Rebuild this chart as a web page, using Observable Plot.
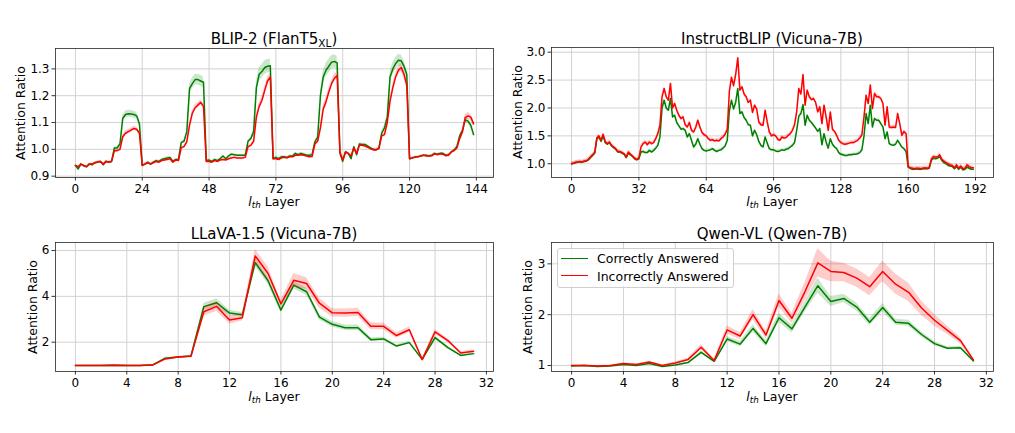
<!DOCTYPE html>
<html><head><meta charset="utf-8">
<script src="https://cdn.jsdelivr.net/npm/d3@7"></script>
<script src="https://cdn.jsdelivr.net/npm/@observablehq/plot@0.6"></script>
<style>
html,body{margin:0;padding:0;background:#fff;}
#root{position:relative;width:1015px;height:433px;overflow:hidden;font-family:"DejaVu Sans",sans-serif;color:#000;}
.abs{position:absolute;white-space:nowrap;}
.title{font-size:15px;transform:translate(-50%,-50%);}
.xlab{font-size:12.5px;transform:translate(-50%,-50%);}
.ylab{font-size:12.5px;transform:translate(-50%,-50%) rotate(-90deg);}
sub{font-size:0.7em;vertical-align:-0.3em;line-height:0;}
.panel svg{display:block;}
</style>
</head><body><div id="root"></div>
<script>
// ---------- Panel 1: BLIP-2 (FlanT5XL), layers 0..143 ----------
const blipXTicks = [0, 24, 48, 72, 96, 120, 144];
const blipYTicks = [0.9, 1.0, 1.1, 1.2, 1.3];
const blipCorrect = [
  0.940,0.927,0.945,0.938,0.935,0.945,0.942,0.950,0.952,0.955,0.942,0.955,0.952,0.955,1.005,1.005,1.020,1.115,1.130,1.133,1.132,1.130,1.125,1.095,
  0.940,0.945,0.952,0.945,0.952,0.958,0.955,0.962,0.965,0.968,0.970,0.955,0.962,0.962,1.025,1.030,1.065,1.227,1.245,1.260,1.260,1.255,1.250,0.958,
  0.960,0.955,0.962,0.958,0.965,0.975,0.965,0.975,0.982,0.980,0.978,0.978,0.978,0.978,1.030,1.040,1.065,1.230,1.280,1.290,1.305,1.310,1.312,0.965,
  0.970,0.965,0.972,0.972,0.970,0.975,0.975,0.985,0.980,0.985,0.982,0.978,0.978,0.980,1.028,1.045,1.200,1.270,1.295,1.310,1.325,1.328,1.322,0.985,
  0.955,0.990,0.985,0.965,1.010,0.980,1.020,1.018,1.018,1.012,1.005,1.000,0.998,1.005,1.060,1.080,1.120,1.270,1.300,1.320,1.332,1.330,1.310,1.280,
  0.965,0.968,0.972,0.972,0.975,0.978,0.978,0.975,0.978,0.985,0.982,0.985,0.985,0.978,0.980,0.990,0.998,1.010,1.050,1.070,1.110,1.105,1.090,1.055
];
const blipIncorrect = [
  0.940,0.935,0.945,0.940,0.935,0.945,0.945,0.950,0.953,0.955,0.945,0.955,0.953,0.955,0.995,0.995,1.000,1.047,1.060,1.066,1.072,1.078,1.075,1.060,
  0.940,0.945,0.950,0.945,0.950,0.955,0.952,0.958,0.960,0.962,0.965,0.952,0.960,0.958,1.006,1.010,1.028,1.090,1.135,1.155,1.165,1.175,1.160,0.955,
  0.955,0.952,0.958,0.955,0.960,0.962,0.960,0.965,0.968,0.970,0.968,0.968,0.968,0.970,1.010,1.015,1.030,1.120,1.160,1.183,1.220,1.255,1.270,0.965,
  0.965,0.962,0.968,0.970,0.968,0.972,0.972,0.978,0.978,0.980,0.978,0.975,0.972,0.973,1.020,1.030,1.080,1.150,1.177,1.214,1.245,1.265,1.275,0.990,
  0.960,0.990,0.985,0.975,1.005,0.985,1.015,1.015,1.012,1.008,1.002,0.998,0.998,1.003,1.050,1.055,1.100,1.180,1.230,1.270,1.295,1.305,1.280,1.240,
  0.965,0.968,0.970,0.972,0.975,0.978,0.975,0.975,0.976,0.983,0.980,0.983,0.982,0.976,0.978,0.990,0.995,1.005,1.040,1.065,1.118,1.125,1.120,1.095
];
const blipCorrectErr = [
  0.004,0.004,0.004,0.004,0.004,0.004,0.004,0.004,0.004,0.004,0.004,0.004,0.004,0.004,0.005,0.005,0.006,0.012,0.013,0.013,0.013,0.013,0.012,0.010,
  0.004,0.004,0.004,0.004,0.004,0.004,0.004,0.004,0.004,0.004,0.004,0.004,0.004,0.004,0.006,0.006,0.008,0.018,0.020,0.020,0.020,0.020,0.020,0.005,
  0.004,0.004,0.004,0.004,0.004,0.004,0.004,0.004,0.004,0.004,0.004,0.004,0.004,0.004,0.006,0.006,0.008,0.022,0.025,0.025,0.025,0.025,0.025,0.005,
  0.004,0.004,0.004,0.004,0.004,0.004,0.004,0.004,0.004,0.004,0.004,0.004,0.004,0.004,0.006,0.006,0.015,0.022,0.025,0.025,0.025,0.025,0.025,0.005,
  0.005,0.005,0.005,0.005,0.005,0.005,0.005,0.005,0.005,0.005,0.005,0.005,0.005,0.005,0.008,0.010,0.012,0.020,0.022,0.022,0.022,0.022,0.020,0.020,
  0.003,0.003,0.003,0.003,0.003,0.003,0.003,0.003,0.003,0.003,0.003,0.003,0.003,0.003,0.003,0.003,0.003,0.003,0.006,0.008,0.010,0.010,0.010,0.010
];
const blipIncorrectErr = [
  0.003,0.003,0.003,0.003,0.003,0.003,0.003,0.003,0.003,0.003,0.003,0.003,0.003,0.003,0.004,0.004,0.005,0.008,0.008,0.008,0.008,0.008,0.008,0.008,
  0.003,0.003,0.003,0.003,0.003,0.003,0.003,0.003,0.003,0.003,0.003,0.003,0.003,0.003,0.004,0.005,0.006,0.010,0.010,0.010,0.010,0.010,0.010,0.004,
  0.003,0.003,0.003,0.003,0.003,0.003,0.003,0.003,0.003,0.003,0.003,0.003,0.003,0.003,0.004,0.005,0.006,0.012,0.014,0.014,0.014,0.014,0.014,0.004,
  0.003,0.003,0.003,0.003,0.003,0.003,0.003,0.003,0.003,0.003,0.003,0.003,0.003,0.003,0.004,0.005,0.010,0.014,0.014,0.014,0.014,0.014,0.014,0.004,
  0.004,0.004,0.004,0.004,0.004,0.004,0.004,0.004,0.004,0.004,0.004,0.004,0.004,0.004,0.006,0.008,0.010,0.014,0.014,0.014,0.014,0.014,0.014,0.014,
  0.003,0.003,0.003,0.003,0.003,0.003,0.003,0.003,0.003,0.003,0.003,0.003,0.003,0.003,0.003,0.003,0.003,0.003,0.006,0.008,0.012,0.012,0.012,0.012
];

// ---------- Panel 2: InstructBLIP (Vicuna-7B), layers 0..191 ----------
const instXTicks = [0, 32, 64, 96, 128, 160, 192];
const instYTicks = [1.0, 1.5, 2.0, 2.5, 3.0];
const instCorrect = [
  1.00,1.01,1.02,1.03,1.03,1.03,1.04,1.05,1.07,1.11,1.15,1.19,1.44,1.48,1.40,1.50,1.38,1.35,1.38,1.32,1.29,1.26,1.21,1.21,1.19,1.17,1.11,1.19,1.16,1.13,1.09,1.07,
  1.09,1.21,1.22,1.20,1.20,1.24,1.21,1.24,1.28,1.33,1.48,2.00,2.14,2.00,1.96,2.17,1.84,1.87,1.74,1.68,1.62,1.63,1.60,1.48,1.54,1.42,1.30,1.35,1.45,1.35,1.27,1.24,
  1.23,1.24,1.25,1.27,1.24,1.22,1.24,1.25,1.28,1.32,1.42,1.95,2.14,1.98,2.10,2.35,1.90,1.93,1.83,1.78,1.70,1.69,1.50,1.60,1.52,1.40,1.33,1.30,1.48,1.37,1.27,1.25,
  1.25,1.23,1.22,1.23,1.25,1.24,1.26,1.27,1.30,1.33,1.38,1.60,1.85,1.90,2.06,1.69,1.87,1.78,1.74,1.69,1.64,1.58,1.63,1.34,1.54,1.39,1.28,1.45,1.35,1.30,1.27,1.20,
  1.17,1.16,1.15,1.15,1.16,1.16,1.17,1.17,1.18,1.20,1.25,1.50,1.90,1.72,2.05,1.66,1.81,1.78,1.78,1.72,1.66,1.45,1.57,1.36,1.34,1.33,1.35,1.42,1.36,1.30,1.27,1.22,
  0.94,0.92,0.90,0.90,0.91,0.90,0.90,0.91,0.91,0.91,0.92,1.06,1.10,1.09,1.10,1.13,1.06,1.02,1.00,0.97,0.96,0.95,0.91,0.95,0.90,0.94,0.89,0.90,0.94,0.92,0.90,0.90
];
const instIncorrect = [
  1.00,1.01,1.03,1.03,1.04,1.03,1.05,1.05,1.08,1.12,1.16,1.20,1.46,1.50,1.42,1.53,1.40,1.36,1.39,1.33,1.30,1.27,1.22,1.22,1.20,1.18,1.12,1.21,1.17,1.14,1.10,1.08,
  1.10,1.30,1.36,1.39,1.34,1.39,1.36,1.38,1.45,1.54,1.69,2.20,2.35,2.20,2.14,2.44,2.00,2.08,1.96,1.87,1.81,1.84,1.70,1.66,1.74,1.60,1.57,1.65,1.78,1.66,1.56,1.52,
  1.50,1.45,1.42,1.43,1.41,1.42,1.41,1.45,1.48,1.53,1.62,2.30,2.55,2.40,2.60,2.90,2.32,2.38,2.25,2.20,2.10,2.14,1.92,2.05,1.98,1.75,1.70,1.69,1.96,1.75,1.57,1.50,
  1.52,1.50,1.44,1.42,1.48,1.46,1.47,1.51,1.54,1.60,1.70,1.93,2.35,2.25,2.60,2.05,2.32,2.20,2.15,2.17,2.10,1.93,2.02,1.72,2.05,1.84,1.60,1.93,1.62,1.58,1.51,1.42,
  1.38,1.36,1.35,1.36,1.37,1.38,1.38,1.40,1.42,1.46,1.52,1.84,2.23,2.08,2.41,1.99,2.26,2.20,2.20,2.17,2.08,1.69,2.02,1.66,1.65,1.66,1.65,1.90,1.72,1.51,1.58,1.54,
  0.95,0.93,0.92,0.91,0.92,0.92,0.91,0.92,0.93,0.92,0.93,1.08,1.13,1.12,1.12,1.16,1.08,1.05,1.02,1.00,0.98,0.97,0.93,0.98,0.92,0.96,0.91,0.92,0.98,0.95,0.93,0.93
];
const instCorrectErr = 0.025;
const instIncorrectErr = 0.035;

// ---------- Panel 3: LLaVA-1.5 (Vicuna-7B), layers 0..31 ----------
const llavaXTicks = [0, 4, 8, 12, 16, 20, 24, 28, 32];
const llavaYTicks = [2, 4, 6];
const llavaCorrect = [0.98,0.98,0.98,0.99,0.98,0.98,1.00,1.30,1.35,1.40,3.55,3.72,3.27,3.20,5.47,4.68,3.40,4.49,4.20,3.09,2.78,2.63,2.63,2.11,2.14,1.83,1.98,1.25,2.20,1.76,1.42,1.50];
const llavaIncorrect = [0.98,0.98,0.98,0.99,0.98,0.98,1.00,1.27,1.35,1.39,3.33,3.56,2.97,3.07,5.76,5.00,3.67,4.70,4.56,3.70,3.28,3.27,3.30,2.69,2.69,2.29,2.54,1.24,2.45,2.07,1.53,1.60];
const llavaCorrectErr = [0.01,0.01,0.01,0.01,0.01,0.01,0.01,0.03,0.03,0.03,0.15,0.17,0.12,0.10,0.17,0.15,0.10,0.17,0.15,0.12,0.12,0.12,0.12,0.08,0.08,0.06,0.06,0.04,0.08,0.06,0.04,0.04];
const llavaIncorrectErr = [0.01,0.01,0.01,0.01,0.01,0.01,0.01,0.03,0.03,0.03,0.20,0.22,0.18,0.15,0.30,0.28,0.15,0.30,0.25,0.22,0.18,0.18,0.18,0.15,0.15,0.12,0.12,0.05,0.10,0.08,0.06,0.06];

// ---------- Panel 4: Qwen-VL (Qwen-7B), layers 0..31 ----------
const qwenXTicks = [0, 4, 8, 12, 16, 20, 24, 28, 32];
const qwenYTicks = [1, 2, 3];
const qwenCorrect = [0.99,1.00,0.98,0.99,1.02,1.00,1.04,0.98,1.01,1.06,1.26,1.08,1.52,1.42,1.73,1.43,1.94,1.72,2.15,2.57,2.26,2.32,2.15,1.85,2.14,1.85,1.83,1.61,1.43,1.34,1.35,1.09];
const qwenIncorrect = [1.00,1.00,0.99,1.00,1.04,1.02,1.07,1.00,1.05,1.12,1.36,1.10,1.70,1.58,2.00,1.60,2.28,1.93,2.45,3.02,2.85,2.83,2.72,2.55,2.85,2.60,2.44,2.13,1.89,1.69,1.49,1.11];
const qwenCorrectErr = [0.01,0.01,0.01,0.01,0.01,0.01,0.01,0.01,0.01,0.01,0.03,0.02,0.05,0.05,0.07,0.06,0.09,0.08,0.10,0.15,0.10,0.08,0.08,0.07,0.08,0.06,0.06,0.05,0.04,0.03,0.03,0.02];
const qwenIncorrectErr = [0.01,0.01,0.01,0.01,0.01,0.01,0.01,0.01,0.02,0.03,0.05,0.03,0.08,0.07,0.10,0.08,0.13,0.10,0.18,0.28,0.20,0.18,0.18,0.18,0.20,0.20,0.18,0.14,0.12,0.08,0.06,0.03];

const legendLabels = ["Correctly Answered", "Incorrectly Answered"];
const colors = {correct: "green", incorrect: "red"};

// ---------- helpers ----------
const root = document.getElementById("root");
function rows(vals, err) {
  return vals.map((v, i) => {
    const e = Array.isArray(err) ? err[i] : err;
    return {i, v, lo: v - e, hi: v + e};
  });
}
function addDiv(cls, x, y, html) {
  const d = document.createElement("div");
  d.className = "abs " + cls;
  d.style.left = x + "px";
  d.style.top = y + "px";
  d.innerHTML = html;
  root.appendChild(d);
  return d;
}
const mL = 45, mR = 8, mT = 6, mB = 26;
function panel(cfg) {
  const f = cfg.frame;
  const W = f.r - f.l + mL + mR, H = f.b - f.t + mT + mB;
  const g = rows(cfg.correct, cfg.correctErr);
  const r = rows(cfg.incorrect, cfg.incorrectErr);
  const svg = Plot.plot({
    width: W, height: H,
    marginLeft: mL, marginRight: mR, marginTop: mT, marginBottom: mB,
    style: {fontFamily: "DejaVu Sans", fontSize: "12px", color: "#000", background: "transparent", overflow: "visible"},
    x: {domain: cfg.xDomain, label: null},
    y: {domain: cfg.yDomain, label: null},
    marks: [
      Plot.gridX(cfg.xTicks, {stroke: "#d2d2d2", strokeOpacity: 1, strokeWidth: 1}),
      Plot.gridY(cfg.yTicks, {stroke: "#d2d2d2", strokeOpacity: 1, strokeWidth: 1}),
      Plot.areaY(g, {x: "i", y1: "lo", y2: "hi", fill: colors.correct, fillOpacity: 0.2}),
      Plot.lineY(g, {x: "i", y: "v", stroke: colors.correct, strokeWidth: 1.5}),
      Plot.areaY(r, {x: "i", y1: "lo", y2: "hi", fill: colors.incorrect, fillOpacity: 0.2}),
      Plot.lineY(r, {x: "i", y: "v", stroke: colors.incorrect, strokeWidth: 1.5}),
      Plot.axisX(cfg.xTicks, {tickSize: 3.5, tickPadding: 3, strokeWidth: 0.8, label: null}),
      Plot.axisY(cfg.yTicks, {tickSize: 3.5, tickPadding: 2.5, strokeWidth: 0.8, tickFormat: cfg.yFormat, label: null}),
      Plot.frame({stroke: "#262626", strokeWidth: 0.8})
    ]
  });
  const wrap = document.createElement("div");
  wrap.className = "abs panel";
  wrap.style.left = (f.l - mL) + "px";
  wrap.style.top = (f.t - mT) + "px";
  wrap.appendChild(svg);
  root.appendChild(wrap);
  const cx = (f.l + f.r) / 2;
  addDiv("title", cx, cfg.titleY, cfg.title);
  addDiv("xlab", cx, cfg.xlabY, '<i>l<sub>th</sub></i> Layer');
  addDiv("ylab", cfg.ylabX, (f.t + f.b) / 2, "Attention Ratio");
}

panel({
  frame: {l: 55, t: 48, r: 493, b: 177},
  xDomain: [-7.15, 150.15], yDomain: [0.895, 1.376],
  xTicks: blipXTicks, yTicks: blipYTicks, yFormat: d3.format(".1f"),
  correct: blipCorrect, incorrect: blipIncorrect,
  correctErr: blipCorrectErr, incorrectErr: blipIncorrectErr,
  title: "BLIP-2 (FlanT5<sub>XL</sub>)", titleY: 39, xlabY: 201, ylabX: 20
});
panel({
  frame: {l: 551, t: 47, r: 993, b: 177},
  xDomain: [-9.55, 200.55], yDomain: [0.754, 3.084],
  xTicks: instXTicks, yTicks: instYTicks, yFormat: d3.format(".1f"),
  correct: instCorrect, incorrect: instIncorrect,
  correctErr: instCorrectErr, incorrectErr: instIncorrectErr,
  title: "InstructBLIP (Vicuna-7B)", titleY: 39, xlabY: 201, ylabX: 517
});
panel({
  frame: {l: 55, t: 242, r: 493, b: 371},
  xDomain: [-1.55, 32.55], yDomain: [0.72, 6.35],
  xTicks: llavaXTicks, yTicks: llavaYTicks, yFormat: d3.format("d"),
  correct: llavaCorrect, incorrect: llavaIncorrect,
  correctErr: llavaCorrectErr, incorrectErr: llavaIncorrectErr,
  title: "LLaVA-1.5 (Vicuna-7B)", titleY: 233.5, xlabY: 395.5, ylabX: 32
});
panel({
  frame: {l: 551, t: 242, r: 993, b: 371},
  xDomain: [-1.55, 32.55], yDomain: [0.882, 3.42],
  xTicks: qwenXTicks, yTicks: qwenYTicks, yFormat: d3.format("d"),
  correct: qwenCorrect, incorrect: qwenIncorrect,
  correctErr: qwenCorrectErr, incorrectErr: qwenIncorrectErr,
  title: "Qwen-VL (Qwen-7B)", titleY: 233.5, xlabY: 395.5, ylabX: 527
});

// ---------- legend (Qwen-VL panel) ----------
const leg = document.createElement("div");
leg.className = "abs";
Object.assign(leg.style, {left: "557px", top: "248px", width: "177px", height: "40px",
  border: "1px solid #d0d0d0", borderRadius: "3px", background: "rgba(255,255,255,0.8)", boxSizing: "border-box"});
root.appendChild(leg);
[[colors.correct, legendLabels[0], 258.3], [colors.incorrect, legendLabels[1], 275.7]].forEach(([c, t, y]) => {
  const ln = document.createElement("div");
  ln.className = "abs";
  Object.assign(ln.style, {left: "561px", top: (y - 0.75) + "px", width: "27px", height: "1.5px", background: c});
  root.appendChild(ln);
  const tx = addDiv("", 597, y, t);
  tx.style.fontSize = "12.5px";
  tx.style.transform = "translateY(-50%)";
});
</script>
</body></html>
